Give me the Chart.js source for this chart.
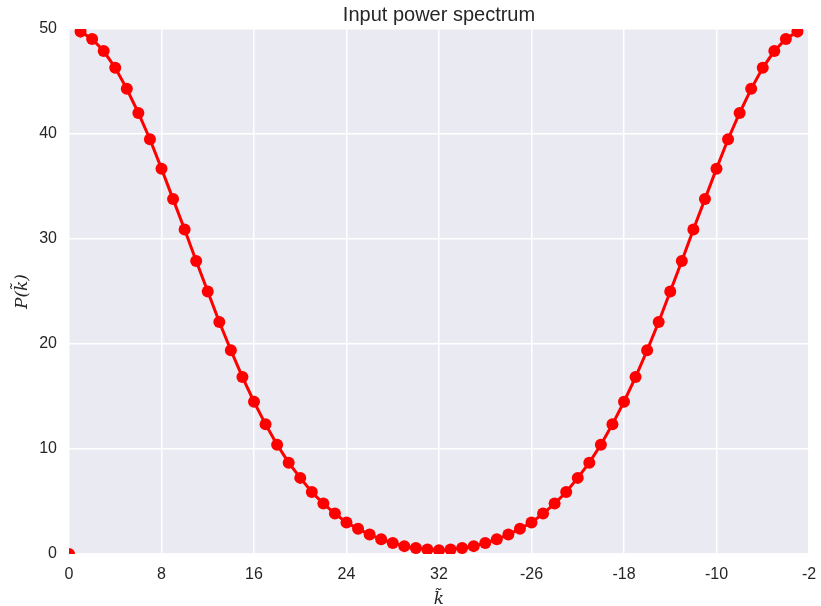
<!DOCTYPE html>
<html>
<head>
<meta charset="utf-8">
<script src="https://cdn.jsdelivr.net/npm/chart.js@4"></script>
<style>
  html, body { margin: 0; padding: 0; background: #ffffff; }
  canvas { display: block; }
</style>
</head>
<body>
<canvas id="spectrumChart" width="821" height="606"></canvas>
<script>
// Power per FFT bin
const power = [
    0, 49.75, 49.05, 47.9, 46.3, 44.3, 42.0, 39.5, 36.7, 33.8,
    30.9, 27.9, 25.0, 22.1, 19.4, 16.85, 14.5, 12.35, 10.4, 8.7,
    7.25, 5.9, 4.8, 3.85, 3.0, 2.4, 1.85, 1.4, 1.05, 0.75,
    0.57, 0.42, 0.35, 0.42, 0.57, 0.75, 1.05, 1.4, 1.85, 2.4,
    3.0, 3.85, 4.8, 5.9, 7.25, 8.7, 10.4, 12.35, 14.5, 16.85,
    19.4, 22.1, 25.0, 27.9, 30.9, 33.8, 36.7, 39.5, 42.0, 44.3,
    46.3, 47.9, 49.05, 49.75
];
const xTickLabels = ['0', '8', '16', '24', '32', '-26', '-18', '-10', '-2'];
const yTicks = [0, 10, 20, 30, 40, 50];

const textColor = '#262626';
const sansFont = "'Liberation Sans', Arial, sans-serif";

// Seaborn-style grey plot background
const plotBackground = {
    id: 'plotBackground',
    beforeDraw(chart) {
        const { ctx, chartArea } = chart;
        ctx.save();
        ctx.fillStyle = '#EAEAF2';
        ctx.fillRect(chartArea.left, chartArea.top, chartArea.right - chartArea.left, chartArea.bottom - chartArea.top);
        ctx.restore();
    }
};

// Title centred over the plot area rather than the canvas
const plotTitle = {
    id: 'plotTitle',
    afterDraw(chart) {
        const { ctx, chartArea } = chart;
        ctx.save();
        ctx.fillStyle = textColor;
        ctx.font = '20px ' + sansFont;
        ctx.textAlign = 'center';
        ctx.textBaseline = 'middle';
        ctx.fillText('Input power spectrum', (chartArea.left + chartArea.right) / 2, 15);
        ctx.restore();
    }
};

const ctx = document.getElementById('spectrumChart').getContext('2d');
new Chart(ctx, {
    type: 'line',
    data: {
        datasets: [{
            data: power.map((p, k) => ({ x: k, y: p })),
            borderColor: '#ff0000',
            backgroundColor: '#ff0000',
            borderWidth: 3,
            pointRadius: 6,
            pointBorderWidth: 0,
            pointHoverRadius: 6,
            tension: 0,
            clip: 0,
            // the DC bin is drawn as a lone marker, not joined to the curve
            segment: {
                borderColor: c => c.p0DataIndex === 0 ? 'rgba(0,0,0,0)' : undefined
            }
        }]
    },
    options: {
        responsive: false,
        animation: false,
        layout: { padding: { top: 29, right: 12, left: 0, bottom: 0 } },
        plugins: {
            legend: { display: false },
            title: { display: false },
            tooltip: { enabled: false }
        },
        scales: {
            x: {
                type: 'linear',
                min: 0,
                max: 64,
                afterFit: scale => {
                    scale.height = 52;
                    scale.paddingLeft = 0;
                    scale.paddingRight = 0;
                },
                ticks: {
                    stepSize: 8,
                    padding: 11,
                    color: textColor,
                    font: { family: sansFont, size: 16 },
                    callback: v => xTickLabels[v / 8]
                },
                grid: { color: '#ffffff', lineWidth: 1.5, drawTicks: false },
                border: { display: false },
                title: {
                    display: true,
                    text: 'k\u0303',
                    color: textColor,
                    font: { family: "'DejaVu Serif', serif", style: 'italic', size: 17 },
                    padding: { top: 0, bottom: -4 }
                }
            },
            y: {
                min: 0,
                max: 50,
                afterFit: scale => { scale.width = 69; },
                afterBuildTicks: scale => { scale.ticks = yTicks.map(v => ({ value: v })); },
                ticks: {
                    padding: 12,
                    color: textColor,
                    font: { family: sansFont, size: 16 }
                },
                grid: { color: '#ffffff', lineWidth: 1.5, drawTicks: false },
                border: { display: false },
                title: {
                    display: true,
                    text: 'P(k\u0303)',
                    color: textColor,
                    font: { family: "'DejaVu Serif', serif", style: 'italic', size: 17 },
                    padding: { top: 12, bottom: 0 }
                }
            }
        }
    },
    plugins: [plotBackground, plotTitle]
});
</script>
</body>
</html>
